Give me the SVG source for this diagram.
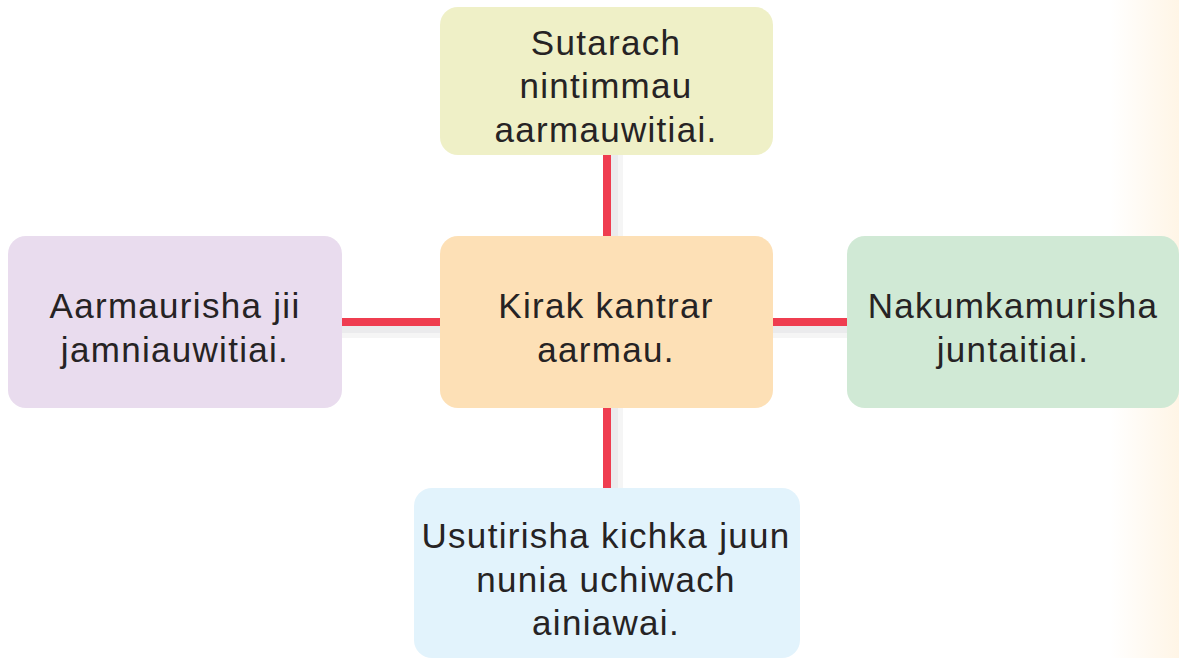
<svg xmlns="http://www.w3.org/2000/svg" width="1179" height="658" viewBox="0 0 1179 658">
<defs>
<linearGradient id="edge" x1="0" y1="0" x2="1" y2="0">
<stop offset="0" stop-color="#ffffff"/>
<stop offset="1" stop-color="#fff5e6"/>
</linearGradient>
<style>
.t{font-family:"Liberation Sans",Arial,sans-serif;font-size:35px;letter-spacing:1.3px;fill:#262324;text-anchor:middle}
.red{fill:#ef3d50}
.sh{fill:#ebebed}
.sh2{fill:#f5f5f5}
</style>
</defs>
<rect width="1179" height="658" fill="#ffffff"/>
<rect x="1110" y="0" width="69" height="658" fill="url(#edge)"/>
<g id="connectors">
<rect class="sh2" x="617" y="155" width="6" height="81"/>
<rect class="sh" x="611" y="155" width="7" height="81"/>
<rect class="red" x="603" y="155" width="8" height="81"/>
<rect class="sh2" x="617" y="408" width="6" height="80"/>
<rect class="sh" x="611" y="408" width="7" height="80"/>
<rect class="red" x="603" y="408" width="8" height="80"/>
<rect class="sh2" x="342" y="332" width="98" height="6"/>
<rect class="sh" x="342" y="326" width="98" height="7"/>
<rect class="red" x="342" y="318" width="98" height="8"/>
<rect class="sh2" x="773" y="332" width="74" height="6"/>
<rect class="sh" x="773" y="326" width="74" height="7"/>
<rect class="red" x="773" y="318" width="74" height="8"/>
</g>
<g id="top">
<rect x="440" y="7" width="333" height="148" rx="18" fill="#eff0c7"/>
<text class="t" x="606" y="55">Sutarach</text>
<text class="t" x="606" y="98">nintimmau</text>
<text class="t" x="606" y="142">aarmauwitiai.</text>
</g>
<g id="center">
<rect x="440" y="236" width="333" height="172" rx="18" fill="#fde0b6"/>
<text class="t" x="606" y="318">Kirak kantrar</text>
<text class="t" x="606" y="362">aarmau.</text>
</g>
<g id="left">
<rect x="8" y="236" width="334" height="172" rx="18" fill="#e9dcee"/>
<text class="t" x="175" y="318">Aarmaurisha jii</text>
<text class="t" x="175" y="362">jamniauwitiai.</text>
</g>
<g id="right">
<rect x="847" y="236" width="332" height="172" rx="18" fill="#d0e9d5"/>
<text class="t" x="1013" y="318">Nakumkamurisha</text>
<text class="t" x="1013" y="362">juntaitiai.</text>
</g>
<g id="bottom">
<rect x="414" y="488" width="386" height="170" rx="18" fill="#e2f3fc"/>
<text class="t" x="606" y="548">Usutirisha kichka juun</text>
<text class="t" x="606" y="592">nunia uchiwach</text>
<text class="t" x="606" y="635">ainiawai.</text>
</g>
</svg>
